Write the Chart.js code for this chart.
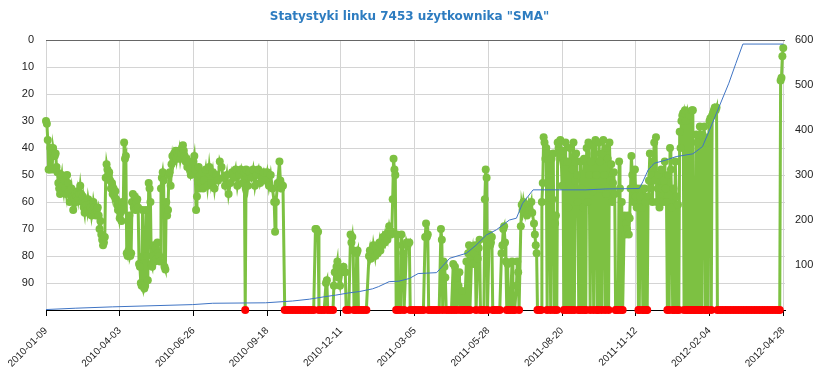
<!DOCTYPE html>
<html>
<head>
  <meta charset="utf-8">
  <script src="https://cdn.jsdelivr.net/npm/chart.js"></script>
  <style>
    body { margin: 0; background: #fff; }
    #wrap { width: 819px; height: 373px; }
  </style>
</head>
<body>
  <div id="wrap"><canvas id="myChart"></canvas></div>

  <script>
    // days counted from 2010-01-09
    var tickDays = [0, 84, 168, 252, 336, 420, 504, 588, 672, 756, 840];
    var tickLabels = ['2010-01-09', '2010-04-03', '2010-06-26', '2010-09-18', '2010-12-11', '2011-03-05',
                      '2011-05-28', '2011-08-20', '2011-11-12', '2012-02-04', '2012-04-28'];

    // position in results (100 = out of the list, red dot)
    var posDays = [
      0,1,2,3,4,5,6,7,8,9,
      10,11,12,13,14,15,16,17,18,19,
      20,21,22,23,24,25,26,27,28,29,
      30,31,32,33,34,35,36,37,38,39,
      40,41,42,43,44,45,46,47,48,49,
      50,51,52,53,54,55,56,57,58,59,
      60,61,62,63,64,65,66,67,68,69,
      70,71,72,73,74,75,76,77,78,79,
      80,81,82,83,84,85,86,87,88,89,
      90,91,92,93,94,95,96,97,98,99,
      100,101,102,103,104,105,106,107,108,109,
      110,111,112,113,114,115,116,117,118,119,
      120,121,122,123,124,125,126,127,128,129,
      130,131,132,133,134,135,136,137,138,139,
      140,141,142,143,144,145,146,147,148,149,
      150,151,152,153,154,155,156,157,158,159,
      160,161,162,163,164,165,166,167,168,169,
      170,171,172,173,174,175,176,177,178,179,
      180,182,184,186,188,190,192,194,196,198,
      200,202,204,206,208,210,212,214,216,218,
      220,222,224,226,227,228,230,232,234,236,
      238,240,242,244,246,248,250,252,254,256,
      258,260,261,262,264,266,267,268,270,272,
      275,278,281,284,287,290,293,296,299,302,
      305,307,308,310,311,314,317,319,320,321,
      324,327,328,329,331,332,333,335,337,339,
      341,342,345,347,348,349,350,351,353,354,
      355,356,359,362,365,368,369,370,372,373,
      375,376,378,380,381,383,384,386,387,389,
      390,391,393,394,395,396,397,398,399,400,
      401,404,405,406,407,408,411,412,414,415,
      418,421,424,427,430,432,433,434,435,436,
      439,442,445,448,450,451,452,453,454,455,
      456,459,462,464,465,466,467,468,470,471,
      472,474,475,477,479,480,481,482,483,485,
      486,487,488,489,490,492,493,494,495,497,
      499,500,501,502,503,505,506,507,508,509,
      511,514,517,519,520,521,522,523,524,525,
      526,527,529,531,532,534,536,537,538,539,
      541,542,543,544,546,547,548,550,551,553,
      554,556,557,558,559,560,562,564,565,566,
      567,568,569,570,571,572,573,574,575,576,
      577,578,579,580,581,582,583,584,585,586,
      587,588,589,590,591,592,593,594,595,596,
      597,598,599,600,601,602,603,604,605,606,
      607,608,609,610,611,612,613,614,615,616,
      617,618,619,620,621,622,623,624,625,626,
      627,628,629,630,631,632,633,634,635,636,
      637,638,639,640,641,642,643,644,645,646,
      647,648,649,650,652,653,654,655,656,657,
      659,660,661,662,663,664,665,666,667,668,
      669,670,671,672,673,674,675,676,677,678,
      679,680,681,682,683,684,685,686,687,688,
      689,690,691,692,693,694,695,696,697,698,
      699,700,701,702,703,704,705,706,707,708,
      709,710,711,712,713,714,715,716,717,718,
      719,720,721,722,723,724,725,726,727,728,
      729,730,731,732,733,734,735,736,737,738,
      739,740,741,742,743,744,745,746,747,748,
      749,750,751,752,753,754,755,756,757,758,
      759,760,761,762,763,764,765,768,771,774,
      777,780,783,786,789,792,795,798,801,804,
      807,810,813,816,819,822,825,828,831,834,
      836,837,838,839,840
    ];
    var positions = [
      30,31,37,48,48,40,41,48,40,42,
      43,42,47,49,53,55,57,52,50,54,
      56,52,55,57,50,53,56,60,57,55,
      58,63,59,57,60,58,56,59,57,54,
      57,60,58,62,64,60,61,63,59,61,
      64,62,65,63,60,62,64,65,63,62,
      65,70,67,72,74,76,75,73,51,46,
      48,50,49,52,55,53,57,55,58,56,
      59,61,63,62,66,64,67,60,63,38,
      44,43,79,80,78,65,80,79,60,57,
      62,58,63,60,59,62,83,84,90,91,
      63,80,92,91,63,80,89,53,55,60,
      83,84,80,76,82,77,81,75,79,80,
      82,55,51,49,52,84,85,60,65,63,
      50,49,54,46,43,45,42,43,41,44,
      42,43,41,44,42,40,39,41,43,45,
      44,47,46,45,48,50,49,47,45,43,
      48,63,58,52,47,55,50,53,49,55,
      52,48,54,47,53,49,55,50,52,45,
      47,51,54,50,57,53,49,51,48,54,
      50,48,53,49,100,48,54,49,51,48,
      54,50,48,53,51,49,52,49,54,50,
      55,60,71,60,53,45,52,55,54,100,
      100,100,100,100,100,100,100,100,100,100,
      100,70,70,71,100,100,100,90,89,100,
      100,100,91,86,84,82,88,91,86,84,
      86,100,100,72,75,73,78,100,100,79,
      78,100,100,100,100,80,78,81,79,76,
      80,77,79,75,78,76,73,75,72,74,
      71,69,72,71,59,44,48,50,100,72,
      100,100,72,76,79,100,75,76,75,100,
      100,100,100,100,100,73,68,73,72,100,
      100,100,100,100,70,74,100,82,84,88,
      100,100,100,83,100,84,88,100,91,86,
      100,93,100,100,82,100,79,76,100,80,
      78,83,79,76,100,81,77,74,100,100,
      100,59,48,51,100,72,76,75,73,100,
      100,100,100,79,76,70,69,75,82,100,
      83,100,100,82,100,100,91,82,86,100,
      69,61,63,60,64,62,65,61,63,60,
      64,68,72,76,79,100,100,100,60,53,
      36,38,44,40,100,42,50,55,100,44,
      59,42,100,68,65,100,38,40,42,37,
      43,54,41,100,45,38,100,45,62,100,
      40,55,100,48,38,100,52,42,50,60,
      100,100,45,55,100,62,44,100,100,40,
      60,38,50,100,45,39,56,100,42,37,
      50,100,100,38,45,55,100,42,37,50,
      100,57,40,44,100,38,52,46,60,53,
      49,57,100,100,100,45,55,100,60,100,
      65,72,68,70,65,72,66,55,43,50,
      60,55,48,58,62,55,100,100,58,55,
      62,100,100,55,60,100,100,58,52,42,
      55,50,60,45,38,52,36,60,55,50,
      62,57,48,55,60,52,45,55,60,100,
      50,100,40,48,62,100,55,100,45,58,
      100,61,100,34,40,30,28,27,100,26,
      30,100,100,27,28,100,100,26,26,100,
      100,100,35,38,100,100,32,100,100,35,
      38,32,100,100,38,100,36,30,29,100,
      28,27,26,25,26,25,100,100,100,100,
      100,100,100,100,100,100,100,100,100,100,
      100,100,100,100,100,100,100,100,100,100,
      100,15,14,6,3
    ];

    // cumulative count, right axis
    var totalDays = [0, 34, 76, 167, 190, 250, 281, 300, 319, 330,
                     345, 357, 372, 379, 391, 402, 414, 424, 445, 460,
                     479, 490, 502, 513, 528, 536, 543, 555, 615, 638,
                     676, 680, 686, 693, 706, 718, 737, 748, 756, 767,
                     778, 786, 794, 840];
    var totals = [1, 4, 7, 12, 15, 16, 20, 24, 30, 33,
                  38, 41, 47, 52, 63, 64, 70, 81, 83, 115,
                  126, 144, 167, 178, 200, 204, 237, 267, 267, 269,
                  270, 285, 311, 326, 333, 341, 347, 363, 400, 452,
                  504, 548, 591, 591];

    var green = '#7dc142';
    var red = '#ff0000';

    var ctx = document.getElementById('myChart').getContext('2d');
    var myChart = new Chart(ctx, {
      type: 'line',
      data: {
        datasets: [{
          label: 'Suma',
          data: totals.map((v, i) => ({ x: totalDays[i], y: v })),
          yAxisID: 'y2',
          borderColor: '#3f74c4',
          borderWidth: 1,
          pointRadius: 0,
          fill: false
        }, {
          label: 'Pozycja',
          data: positions.map((v, i) => ({ x: posDays[i], y: v })),
          yAxisID: 'y',
          borderColor: green,
          borderWidth: 3,
          pointRadius: 4,
          pointBorderWidth: 0,
          pointBackgroundColor: c => (c.raw && c.raw.y === 100) ? red : green,
          clip: false,
          fill: false
        }]
      },
      options: {
        responsive: true,
        maintainAspectRatio: false,
        animation: false,
        layout: { padding: 0 },
        plugins: {
          legend: { display: false },
          tooltip: { enabled: false },
          title: {
            display: true,
            text: 'Statystyki linku 7453 użytkownika "SMA"',
            color: '#2d7cc0',
            font: { family: 'DejaVu Sans', size: 12, weight: 'bold' },
            padding: { top: 10, bottom: 15.6 }
          }
        },
        scales: {
          x: {
            type: 'linear',
            min: 0,
            max: 842,
            afterBuildTicks: s => { s.ticks = tickDays.map(v => ({ value: v })); },
            afterFit: s => { s.height = 63; },
            grid: { color: '#d4d4d4', tickColor: '#000', tickLength: 6 },
            border: { color: '#000' },
            ticks: {
              callback: v => tickLabels[tickDays.indexOf(v)],
              autoSkip: false,
              minRotation: 45,
              maxRotation: 45,
              padding: 9,
              color: '#222',
              font: { family: 'Liberation Sans', size: 10 }
            }
          },
          y: {
            position: 'left',
            reverse: true,
            min: 0,
            max: 100,
            afterFit: s => { s.width = 46; },
            grid: {
              drawTicks: false,
              color: c => c.tick.value === 0 ? '#666' : (c.tick.value === 100 ? 'rgba(0,0,0,0)' : '#d4d4d4')
            },
            border: { display: false },
            ticks: {
              stepSize: 10,
              padding: 12,
              callback: v => v === 100 ? '' : v,
              color: '#222',
              font: { family: 'Liberation Sans', size: 11 }
            }
          },
          y2: {
            position: 'right',
            min: 0,
            max: 600,
            afterFit: s => { s.width = 34; },
            grid: { display: false, drawTicks: false },
            border: { display: false },
            ticks: {
              stepSize: 100,
              padding: 10,
              callback: v => v === 0 ? '' : v,
              color: '#222',
              font: { family: 'Liberation Sans', size: 11 }
            }
          }
        }
      }
    });
  </script>
</body>
</html>
